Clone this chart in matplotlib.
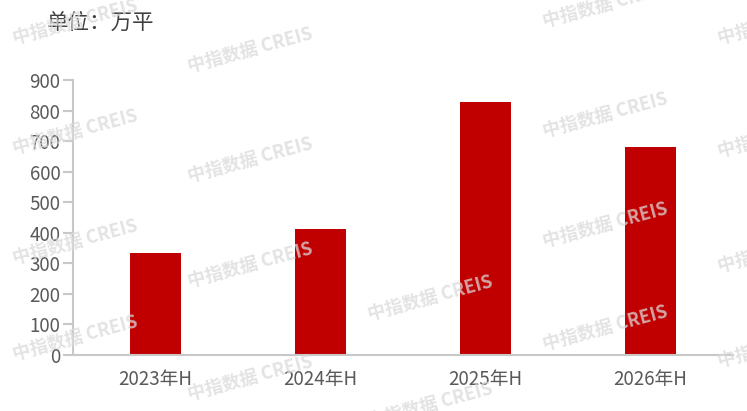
import matplotlib
matplotlib.use("Agg")
import matplotlib.pyplot as plt

categories = ["2023年H", "2024年H", "2025年H", "2026年H"]
values = [334, 412, 828, 681]
yticks = [0, 100, 200, 300, 400, 500, 600, 700, 800, 900]
unit_label = "单位：万平"
watermark = "中指数据 CREIS"

plt.rcParams['font.family'] = ['Noto Sans CJK SC', 'DejaVu Sans']

fig = plt.figure(figsize=(7.47, 4.11), dpi=100)
ax = fig.add_axes([73/747, 1-355/411, 660/747, 275/411])

x = list(range(len(categories)))
ax.bar(x, values, width=0.31, color='#c00000', zorder=2)
ax.set_xlim(-0.5, len(categories) - 0.5)
ax.set_ylim(0, 900)
ax.set_yticks(yticks)
ax.set_xticks(x)
ax.set_xticklabels(categories)

for s in ['top', 'right']:
    ax.spines[s].set_visible(False)
for s in ['left', 'bottom']:
    ax.spines[s].set_color('#c8c8c8')
    ax.spines[s].set_linewidth(1.5)
ax.tick_params(axis='y', length=7, width=1.5, color='#c8c8c8', labelcolor='#595959',
               labelsize=13.5, pad=2)
ax.tick_params(axis='x', length=0, labelcolor='#595959', labelsize=13.5, pad=10)

fig.text(47/747, 1-23/411, unit_label, fontsize=15.5, color='#404040', va='center', ha='left')

wm_pos = [(75, 22), (250, 50), (605, 5), (780, 22),
          (75, 132), (250, 160), (605, 115), (780, 135),
          (75, 242), (250, 265), (605, 225), (780, 250),
          (75, 338), (250, 378), (430, 298), (605, 328), (780, 345),
          (430, 405)]
for (px, py) in wm_pos:
    fig.text(px/747, 1-py/411, watermark, fontsize=13, fontweight='bold', color='#dadada',
             alpha=0.75, rotation=15, ha='center', va='center', zorder=5)

fig.savefig("out.png", dpi=100)
